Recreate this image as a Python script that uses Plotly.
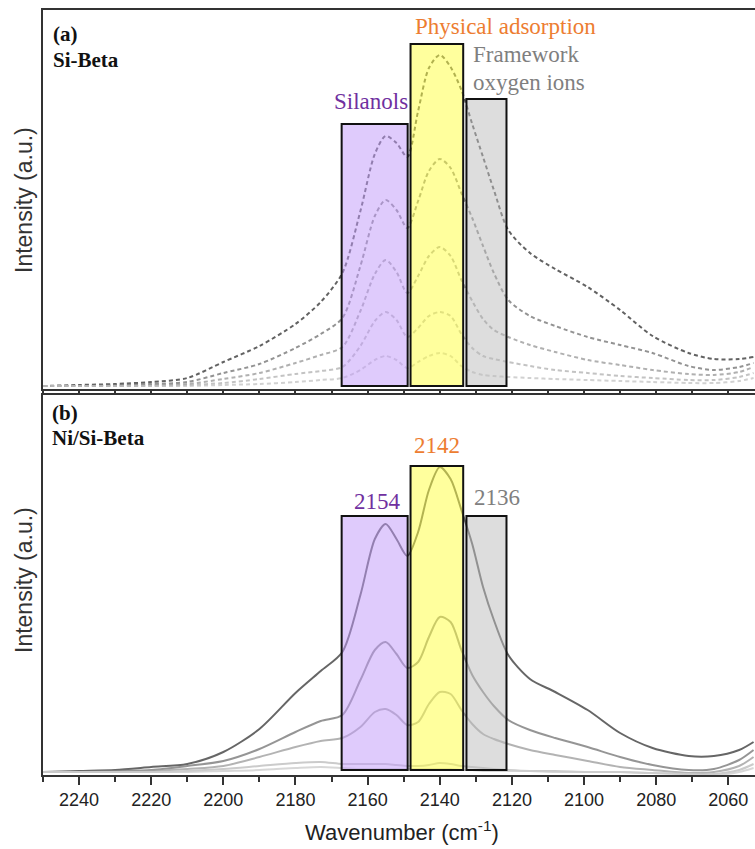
import plotly.graph_objects as go

# Wavenumber grid (cm-1) shared by all spectra
wavenumber = [2250, 2240, 2230, 2220, 2210, 2200, 2190, 2180, 2173, 2167, 2162, 2158,
              2155, 2152, 2149, 2146, 2143, 2140, 2137, 2134, 2131, 2128, 2125, 2121,
              2115, 2108, 2099, 2090, 2081, 2071, 2064, 2057, 2053]

# (a) Si-Beta, CO adsorption spectra (dashed), highest coverage first
si_beta_1 = [0, 1, 2, 4, 8, 24, 40, 62, 84, 113, 175, 232, 250, 243, 229, 275, 318, 331,
             319, 296, 262, 229, 196, 156, 133, 117, 99, 76, 50, 33, 27, 27, 29]
si_beta_2 = [0, 0, 1, 2, 4, 13, 22, 38, 52, 68, 120, 170, 186, 176, 158, 185, 215, 227,
             218, 193, 168, 140, 113, 86, 70, 60, 49, 41, 33, 20, 16, 19, 23]
si_beta_3 = [0, 0, 0, 1, 2, 7, 13, 23, 31, 39, 75, 112, 126, 114, 93, 110, 130, 139,
             130, 106, 85, 67, 56, 49, 41, 34, 26, 21, 16, 12, 11, 14, 19]
si_beta_4 = [0, 0, 0, 0, 1, 3, 7, 12, 15, 19, 40, 65, 74, 66, 49, 58, 70, 74,
             70, 52, 38, 30, 27, 24, 20, 16, 13, 10, 8, 6, 6, 9, 13]
si_beta_5 = [0, 0, 0, 0, 0, 1, 2, 4, 6, 8, 16, 26, 30, 26, 18, 24, 30, 33,
             30, 20, 14, 11, 10, 9, 8, 7, 6, 5, 4, 3, 3, 5, 8]

# (b) Ni/Si-Beta, CO adsorption spectra (solid), highest coverage first
ni_si_beta_1 = [0, 1, 2, 5, 8, 20, 43, 79, 101, 120, 177, 233, 248, 233, 216, 240, 282, 305,
                293, 262, 228, 185, 152, 117, 93, 80, 62, 39, 24, 16, 16, 22, 30]
ni_si_beta_2 = [0, 0, 1, 2, 6, 11, 23, 40, 51, 57, 92, 122, 130, 118, 104, 110, 135, 155,
                150, 122, 97, 80, 66, 52, 42, 34, 25, 15, 7, 2, 3, 12, 22]
ni_si_beta_3 = [0, 0, 0, 1, 3, 6, 15, 25, 31, 34, 45, 60, 63, 57, 47, 50, 68, 80,
                78, 62, 48, 38, 33, 28, 22, 17, 11, 5, 2, -1, 0, 6, 15]
ni_si_beta_4 = [0, 0, 0, 0, 1, 3, 6, 9, 10, 8, 8, 8, 8, 7, 6, 6, 7, 9,
                8, 6, 5, 4, 3, 2, 1, 1, 0, 0, -1, -2, -2, 2, 8]
ni_si_beta_5 = [0, 0, 0, 0, 0, 1, 2, 4, 5, 4, 3, 3, 3, 3, 3, 3, 3, 3,
                3, 2, 2, 1, 1, 1, 1, 0, 0, 0, -1, -2, -3, 0, 4]

# Band regions (cm-1): silanols, physical adsorption, framework oxygen ions
band_left = [2167.2, 2148.1, 2132.6]
band_right = [2148.9, 2133.5, 2121.5]
band_top_a = [262, 342, 287]
band_top_b = [256, 306, 256]
band_fill = ["rgba(192,152,250,0.5)", "rgba(255,255,60,0.5)", "rgba(188,188,188,0.5)"]
band_text_color = ["#7030A0", "#ED7D31", "#7F7F7F"]
band_peak_labels = ["2154", "2142", "2136"]

W, H = 755, 849
X0 = 43 / W
TOP_DOM = [(H - 389) / H, (H - 10) / H]
BOT_DOM = [(H - 775) / H, (H - 395) / H]

fig = go.Figure()

dash_colors = ["rgba(70,70,70,0.85)", "rgba(120,120,120,0.8)", "rgba(150,150,150,0.75)",
               "rgba(170,170,170,0.7)", "rgba(190,190,190,0.7)"]
for ys, c in zip([si_beta_1, si_beta_2, si_beta_3, si_beta_4, si_beta_5], dash_colors):
    fig.add_trace(go.Scatter(x=wavenumber, y=ys, mode="lines", xaxis="x", yaxis="y",
                             line=dict(color=c, width=2, dash="4px,3px", shape="spline",
                                       smoothing=0.8),
                             showlegend=False, hoverinfo="skip"))

solid_colors = ["rgba(85,85,85,0.9)", "rgba(130,130,130,0.85)", "rgba(160,160,160,0.8)",
                "rgba(190,190,190,0.8)", "rgba(205,205,205,0.8)"]
for ys, c in zip([ni_si_beta_1, ni_si_beta_2, ni_si_beta_3, ni_si_beta_4, ni_si_beta_5],
                 solid_colors):
    fig.add_trace(go.Scatter(x=wavenumber, y=ys, mode="lines", xaxis="x2", yaxis="y2",
                             line=dict(color=c, width=2, shape="spline", smoothing=0.8),
                             showlegend=False, hoverinfo="skip"))

# Shaded band boxes
for i in range(3):
    fig.add_shape(type="rect", xref="x", yref="y", x0=band_left[i], x1=band_right[i],
                  y0=0, y1=band_top_a[i], fillcolor=band_fill[i],
                  line=dict(color="#111", width=2), layer="above")
    fig.add_shape(type="rect", xref="x2", yref="y2", x0=band_left[i], x1=band_right[i],
                  y0=2, y1=band_top_b[i], fillcolor=band_fill[i],
                  line=dict(color="#111", width=2), layer="above")

serif = "Liberation Serif"
sans = "Liberation Sans"

ann = []
# Band names, panel (a)
ann.append(dict(x=2159, y=284, xref="x", yref="y", text="Silanols", showarrow=False,
                font=dict(family=serif, size=23, color=band_text_color[0])))
ann.append(dict(x=2121.7, y=359, xref="x", yref="y", text="Physical adsorption",
                showarrow=False, font=dict(family=serif, size=23, color=band_text_color[1])))
ann.append(dict(x=2131.4, y=331, xref="x", yref="y", text="Framework", showarrow=False,
                xanchor="left", font=dict(family=serif, size=23, color=band_text_color[2])))
ann.append(dict(x=2131.4, y=303, xref="x", yref="y", text="oxygen ions", showarrow=False,
                xanchor="left", font=dict(family=serif, size=23, color=band_text_color[2])))
# Peak positions, panel (b)
ann.append(dict(x=2157.2, y=271, xref="x2", yref="y2", text=band_peak_labels[0],
                showarrow=False, font=dict(family=serif, size=23, color=band_text_color[0])))
ann.append(dict(x=2140.8, y=327, xref="x2", yref="y2", text=band_peak_labels[1],
                showarrow=False, font=dict(family=serif, size=23, color=band_text_color[1])))
ann.append(dict(x=2124.2, y=275, xref="x2", yref="y2", text=band_peak_labels[2],
                showarrow=False, font=dict(family=serif, size=23, color=band_text_color[2])))

# Panel tags
def px(xp, yp):
    return xp / W, 1 - yp / H

for text, (xp, yp) in [("<b>(a)</b>", (51, 34)), ("<b>Si-Beta</b>", (51, 60)),
                       ("<b>(b)</b>", (50, 413)), ("<b>Ni/Si-Beta</b>", (50, 438))]:
    xx, yy = px(xp, yp)
    ann.append(dict(x=xx, y=yy, xref="paper", yref="paper", text=text, showarrow=False,
                    xanchor="left", yanchor="middle",
                    font=dict(family=serif, size=21, color="#111")))

# Axis titles
for yp in (200, 580):
    xx, yy = px(24, yp)
    ann.append(dict(x=xx, y=yy, xref="paper", yref="paper", text="Intensity (a.u.)",
                    textangle=-90, showarrow=False, xanchor="center", yanchor="middle",
                    font=dict(family=sans, size=23, color="#333")))
xx, yy = px(402, 831)
ann.append(dict(x=xx, y=yy, xref="paper", yref="paper",
                text="Wavenumber (cm<sup>-1</sup>)", showarrow=False,
                xanchor="center", yanchor="middle",
                font=dict(family=sans, size=22, color="#222")))

x_range = [2250, 2052.6]
common_x = dict(range=x_range, domain=[X0, 1], showline=True, linecolor="#333",
                linewidth=1.5, mirror=True, showgrid=False, zeroline=False,
                tick0=2060, dtick=20, ticks="outside", tickcolor="#333", tickwidth=1.5)

fig.update_layout(
    width=W, height=H, margin=dict(l=0, r=0, t=0, b=0),
    paper_bgcolor="white", plot_bgcolor="white",
    font=dict(family=sans),
    xaxis=dict(**common_x, anchor="y", showticklabels=False, ticklen=4,
               minor=dict(dtick=10, tick0=2060, ticks="outside", ticklen=4,
                          tickcolor="#333", tickwidth=1.5)),
    xaxis2=dict(**common_x, anchor="y2", showticklabels=True, ticklen=8,
                tickfont=dict(family=sans, size=18, color="#222"),
                minor=dict(dtick=10, tick0=2060, ticks="outside", ticklen=5,
                           tickcolor="#333", tickwidth=1.5)),
    yaxis=dict(domain=TOP_DOM, range=[-3, 376], anchor="x", showline=True,
               linecolor="#333", linewidth=1.5, showticklabels=False, ticks="",
               showgrid=False, zeroline=False),
    yaxis2=dict(domain=BOT_DOM, range=[-3, 377], anchor="x2", showline=True,
                linecolor="#333", linewidth=1.5, showticklabels=False, ticks="",
                showgrid=False, zeroline=False),
    annotations=ann,
)

fig.write_html("out.html")
